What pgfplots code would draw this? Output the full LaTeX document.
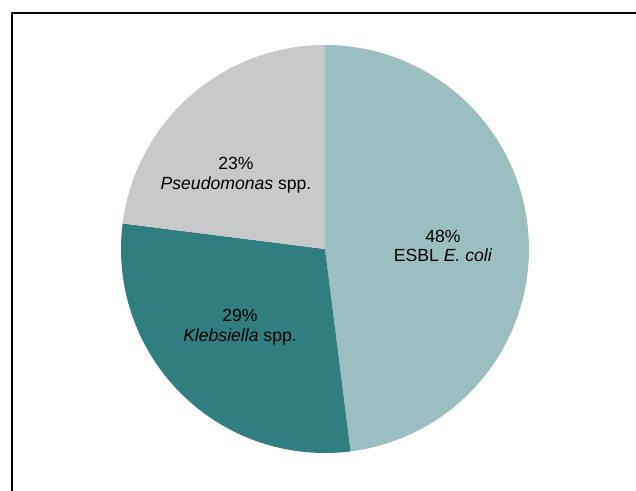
\documentclass[border=0pt]{standalone}
\usepackage{pgfplots}
\pgfplotsset{compat=1.18}
\usepackage{pgfplotstable}
\usepackage{fontspec}
\setmainfont{Liberation Sans}
\definecolor{ecoli}{RGB}{155,191,192}
\definecolor{kleb}{RGB}{49,126,128}
\definecolor{pseud}{RGB}{200,201,203}
% percentages of the slices, clockwise from 12 o'clock
\pgfplotstableread{
slice pct
ecoli 48
kleb 29
pseud 23
}\piedata
\begin{document}
\begin{tikzpicture}
\clip (0,0) rectangle (636bp,491bp);
\pgfplotstablegetelem{0}{pct}\of\piedata \let\pA\pgfplotsretval
\pgfplotstablegetelem{1}{pct}\of\piedata \let\pB\pgfplotsretval
\pgfplotstablegetelem{2}{pct}\of\piedata \let\pC\pgfplotsretval
\pgfmathsetmacro{\aA}{90}
\pgfmathsetmacro{\aB}{\aA-3.6*\pA}
\pgfmathsetmacro{\aC}{\aB-3.6*\pB}
\pgfmathsetmacro{\aD}{\aC-3.6*\pC}
\begin{axis}[
  at={(0,0)}, anchor=origin,
  x=1bp, y=1bp,
  xmin=0, xmax=636, ymin=0, ymax=491,
  hide axis, clip=false,
  scale only axis,
]
\addplot[fill=ecoli, draw=none, domain=\aB:\aA, samples=120, variable=\t]
  ({325+204*cos(\t)},{242+204*sin(\t)}) -- (axis cs:325,242) -- cycle;
\addplot[fill=kleb, draw=none, domain=\aC:\aB, samples=120, variable=\t]
  ({325+204*cos(\t)},{242+204*sin(\t)}) -- (axis cs:325,242) -- cycle;
\addplot[fill=pseud, draw=none, domain=\aD:\aC, samples=120, variable=\t]
  ({325+204*cos(\t)},{242+204*sin(\t)}) -- (axis cs:325,242) -- cycle;
\node[align=center, font=\fontsize{17.6bp}{19.5bp}\selectfont] at (axis cs:443,245) {48\%\\ESBL \textit{E. coli}};
\node[align=center, font=\fontsize{17.6bp}{19.5bp}\selectfont] at (axis cs:240,164) {29\%\\\textit{Klebsiella} spp.};
\node[align=center, font=\fontsize{17.6bp}{19.5bp}\selectfont] at (axis cs:236,316) {23\%\\\textit{Pseudomonas} spp.};
\end{axis}
\draw[line width=1.6bp, black] (11.8bp,-20bp) -- (11.8bp,478.2bp) -- (700bp,478.2bp);
\end{tikzpicture}
\end{document}
